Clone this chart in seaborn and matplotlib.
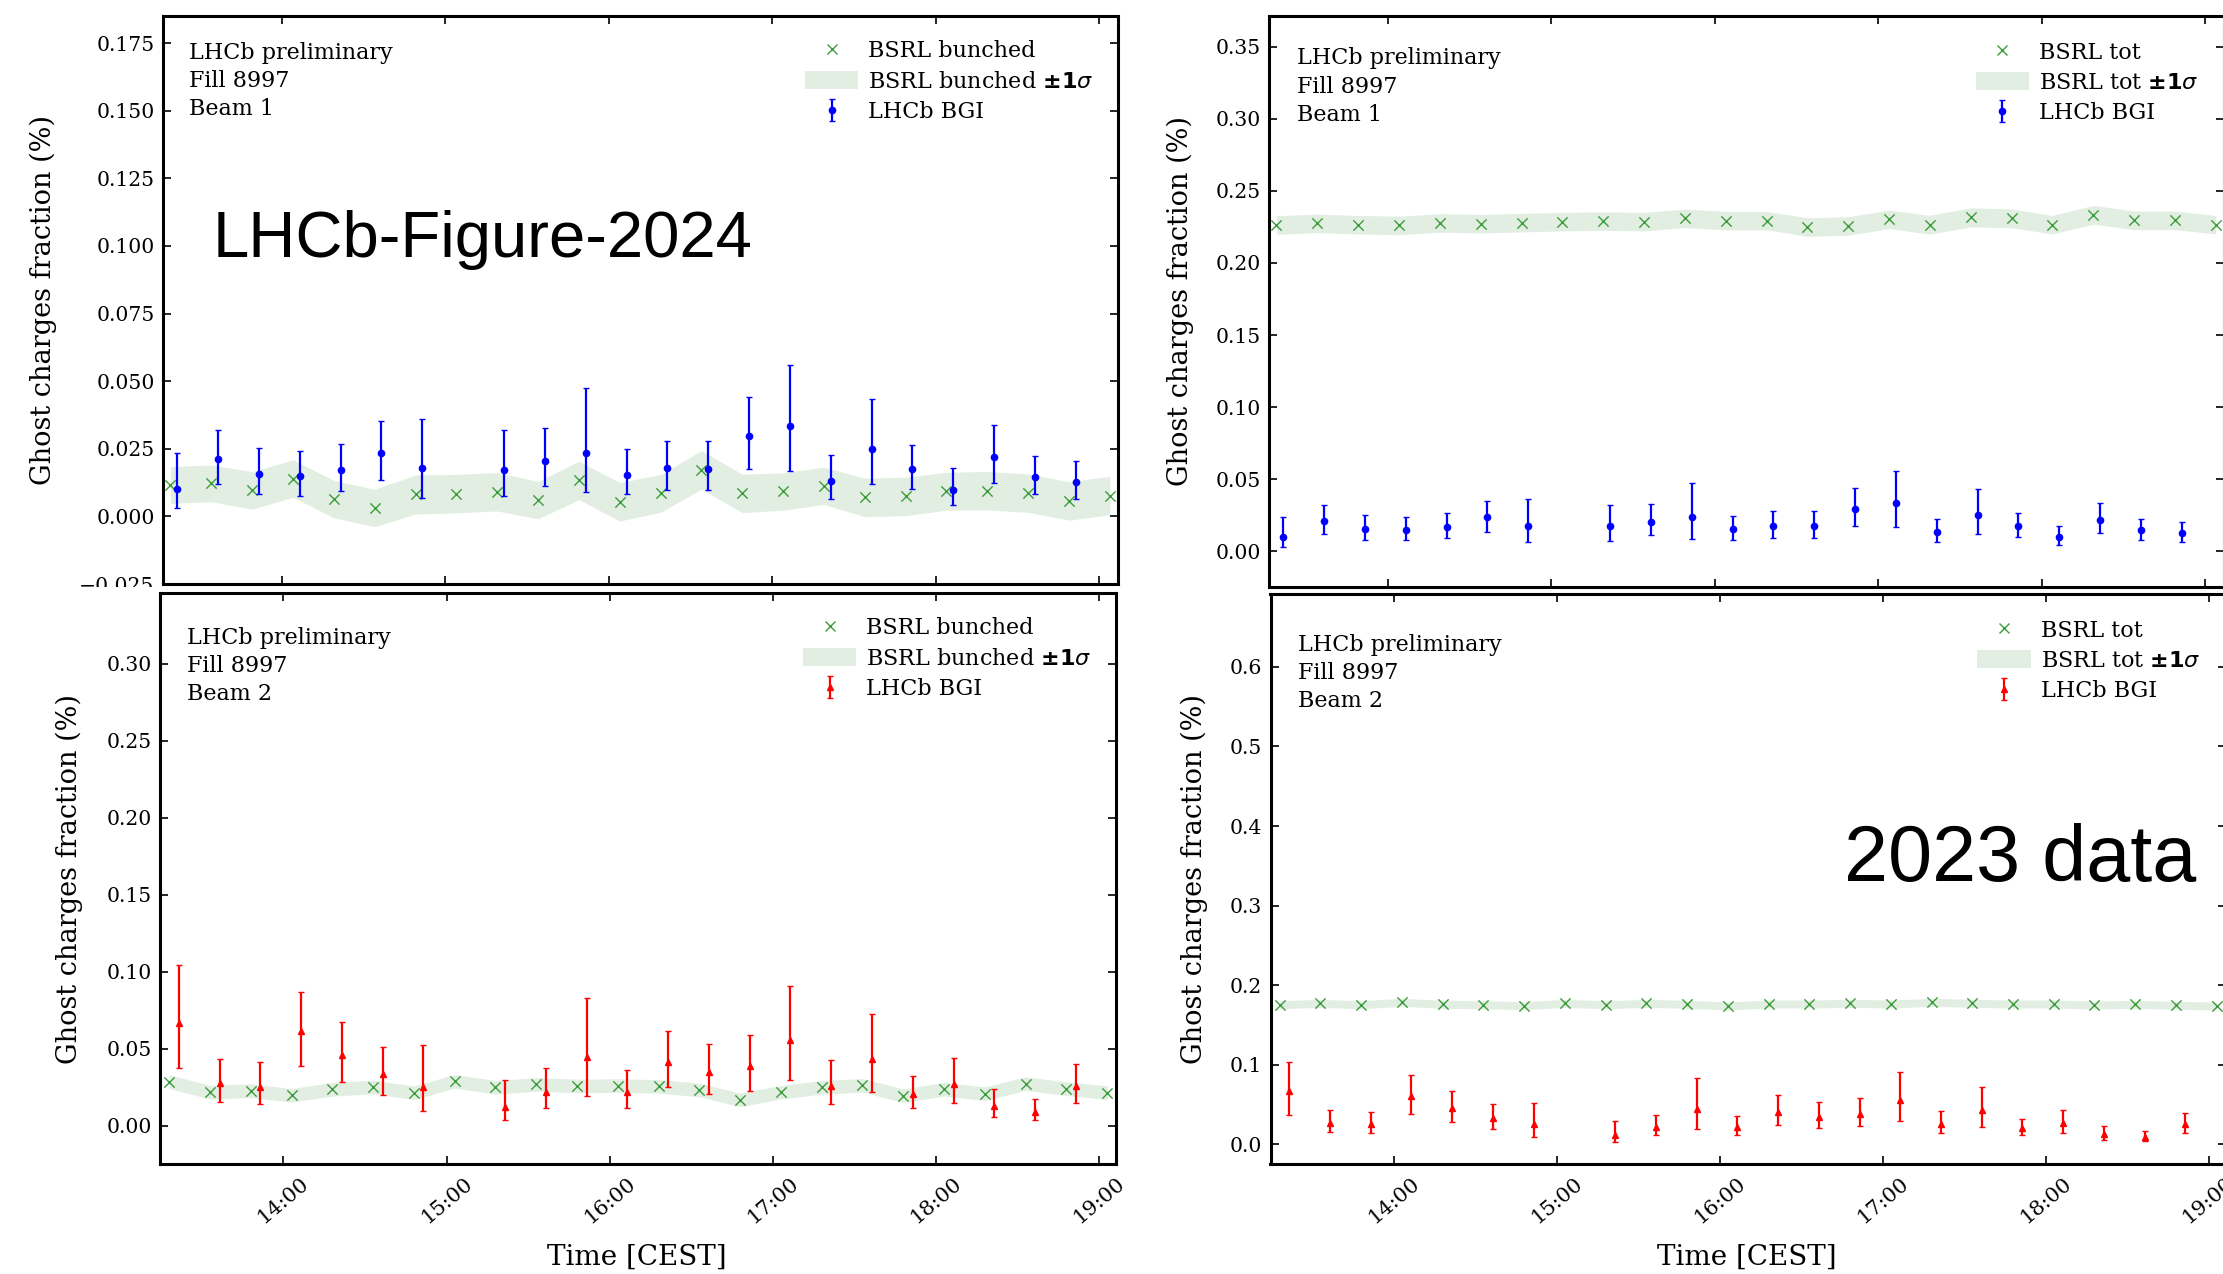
import numpy as np
import pandas as pd
import matplotlib
matplotlib.use("Agg")
import matplotlib.pyplot as plt
import matplotlib.dates as mdates
from matplotlib.patches import Patch, Rectangle
from matplotlib.lines import Line2D
import seaborn as sns

# ---------------- data ----------------
DATE = "2023-07-02 "

bsrl_times_b1 = ["13:19", "13:34", "13:49", "14:04", "14:19", "14:34", "14:49", "15:04",
                 "15:19", "15:34", "15:49", "16:04", "16:19", "16:34", "16:49", "17:04",
                 "17:19", "17:34", "17:49", "18:04", "18:19", "18:34", "18:49", "19:04"]
bsrl_times_b2 = ["13:18", "13:33", "13:48", "14:03", "14:18", "14:33", "14:48", "15:03",
                 "15:18", "15:33", "15:48", "16:03", "16:18", "16:33", "16:48", "17:03",
                 "17:18", "17:33", "17:48", "18:03", "18:18", "18:33", "18:48", "19:03"]
bgi_times = ["13:21:30", "13:36:30", "13:51:30", "14:06:30", "14:21:30", "14:36:30", "14:51:30",
             "15:21:30", "15:36:30", "15:51:30", "16:06:30", "16:21:30", "16:36:30", "16:51:30",
             "17:06:30", "17:21:30", "17:36:30", "17:51:30", "18:06:30", "18:21:30", "18:36:30",
             "18:51:30"]

# Beam 1, BSRL bunched
b1_bunched = [0.0116, 0.0122, 0.0096, 0.0140, 0.0064, 0.0031, 0.0081, 0.0084, 0.0091, 0.0060,
              0.0133, 0.0054, 0.0085, 0.0172, 0.0085, 0.0092, 0.0113, 0.0070, 0.0074, 0.0093,
              0.0095, 0.0086, 0.0057, 0.0077]
b1_bunched_sig = [0.0068, 0.0068, 0.0069, 0.0069, 0.0069, 0.0069, 0.0072, 0.0071, 0.0071, 0.0069,
                  0.0071, 0.0071, 0.0070, 0.0071, 0.0071, 0.0069, 0.0069, 0.0071, 0.0071, 0.0070,
                  0.0071, 0.0071, 0.0071, 0.0071]
# Beam 1, BSRL tot
b1_tot = [0.2263, 0.2274, 0.2265, 0.2260, 0.2277, 0.2272, 0.2279, 0.2286, 0.2290, 0.2286,
          0.2309, 0.2293, 0.2293, 0.2249, 0.2256, 0.2302, 0.2265, 0.2316, 0.2309, 0.2265,
          0.2334, 0.2295, 0.2295, 0.2265]
b1_tot_sig = [0.0064, 0.0064, 0.0064, 0.0064, 0.0064, 0.0064, 0.0064, 0.0064, 0.0064, 0.0064,
              0.0064, 0.0064, 0.0064, 0.0064, 0.0064, 0.0064, 0.0065, 0.0066, 0.0065, 0.0064,
              0.0065, 0.0064, 0.0064, 0.0064]
# Beam 1, LHCb BGI
b1_bgi = [0.0101, 0.0211, 0.0156, 0.0149, 0.0170, 0.0235, 0.0178, 0.0173, 0.0206, 0.0235, 0.0154,
          0.0178, 0.0177, 0.0296, 0.0334, 0.0131, 0.0249, 0.0177, 0.0097, 0.0221, 0.0146, 0.0128]
b1_bgi_hi = [0.0236, 0.0321, 0.0253, 0.0240, 0.0267, 0.0351, 0.0360, 0.0319, 0.0327, 0.0473, 0.0248,
             0.0280, 0.0280, 0.0440, 0.0558, 0.0227, 0.0434, 0.0264, 0.0178, 0.0337, 0.0225, 0.0206]
b1_bgi_lo = [0.0030, 0.0119, 0.0082, 0.0077, 0.0092, 0.0136, 0.0068, 0.0075, 0.0112, 0.0089, 0.0081,
             0.0096, 0.0096, 0.0174, 0.0168, 0.0064, 0.0118, 0.0103, 0.0042, 0.0125, 0.0081, 0.0066]

# Beam 2, BSRL bunched
b2_bunched = [0.0286, 0.0217, 0.0227, 0.0197, 0.0236, 0.0251, 0.0214, 0.0288, 0.0249, 0.0268,
              0.0258, 0.0260, 0.0255, 0.0232, 0.0167, 0.0217, 0.0249, 0.0262, 0.0195, 0.0236,
              0.0208, 0.0273, 0.0240, 0.0214]
b2_bunched_sig = [0.0044, 0.0045, 0.0044, 0.0044, 0.0044, 0.0044, 0.0044, 0.0044, 0.0044, 0.0044,
                  0.0044, 0.0044, 0.0044, 0.0044, 0.0044, 0.0044, 0.0044, 0.0044, 0.0044, 0.0044,
                  0.0044, 0.0044, 0.0044, 0.0044]
# Beam 2, BSRL tot
b2_tot = [0.1755, 0.1772, 0.1755, 0.1785, 0.1760, 0.1755, 0.1743, 0.1772, 0.1755, 0.1772,
          0.1760, 0.1739, 0.1764, 0.1764, 0.1772, 0.1764, 0.1785, 0.1772, 0.1764, 0.1764,
          0.1751, 0.1760, 0.1747, 0.1739]
b2_tot_sig = [0.0050, 0.0050, 0.0050, 0.0050, 0.0050, 0.0050, 0.0050, 0.0050, 0.0050, 0.0050,
              0.0050, 0.0050, 0.0050, 0.0050, 0.0050, 0.0050, 0.0050, 0.0050, 0.0050, 0.0050,
              0.0050, 0.0050, 0.0050, 0.0050]
# Beam 2, LHCb BGI
b2_bgi = [0.0669, 0.0275, 0.0253, 0.0613, 0.0459, 0.0335, 0.0253, 0.0119, 0.0221, 0.0444, 0.0216,
          0.0413, 0.0348, 0.0385, 0.0556, 0.0258, 0.0433, 0.0203, 0.0273, 0.0126, 0.0087, 0.0258]
b2_bgi_hi = [0.1041, 0.0433, 0.0411, 0.0870, 0.0675, 0.0513, 0.0524, 0.0294, 0.0374, 0.0829, 0.0359,
             0.0615, 0.0528, 0.0587, 0.0909, 0.0424, 0.0727, 0.0323, 0.0437, 0.0236, 0.0171, 0.0398]
b2_bgi_lo = [0.0372, 0.0154, 0.0141, 0.0385, 0.0281, 0.0197, 0.0097, 0.0035, 0.0113, 0.0195, 0.0117,
             0.0249, 0.0203, 0.0227, 0.0294, 0.0139, 0.0219, 0.0117, 0.0149, 0.0056, 0.0039, 0.0147]

hour_ticks = ["14:00", "15:00", "16:00", "17:00", "18:00", "19:00"]

# ---------------- style ----------------
sns.set_style("ticks")
plt.rcParams["font.family"] = ["DejaVu Serif"]
plt.rcParams["mathtext.fontset"] = "dejavusans"
for key in ["text.color", "axes.labelcolor", "xtick.color", "ytick.color", "axes.edgecolor"]:
    plt.rcParams[key] = "black"

W, H = 2223, 1274
fig = plt.figure(figsize=(W / 100, H / 100), dpi=100)
fig.patch.set_facecolor("white")

GREEN = "#3c9c3c"
BAND = "#e1eee1"
FS = 16
TICKFS = 14.7


def rect(l, t, r, b):
    return [l / W, 1 - b / H, (r - l) / W, (b - t) / H]


def ts(lst):
    return pd.to_datetime([DATE + s for s in lst])


def panel(pos, bsrl_t, bsrl_v, bsrl_s, bsrl_name, bgi_v, bgi_lo, bgi_hi, color, marker,
          beam, ylim, xlim, bottom_labels, text_xy, leg_pad):
    ax = fig.add_axes(rect(*pos))
    t = ts(bsrl_t)
    v = np.array(bsrl_v)
    s = np.array(bsrl_s)
    ax.fill_between(t, v - s, v + s, color=BAND, lw=0, zorder=1)
    sns.scatterplot(x=t, y=v, marker="x", color=GREEN, s=55, linewidth=1.0,
                    ax=ax, zorder=2, legend=False)
    tb = ts(bgi_times)
    c = np.array(bgi_v)
    yerr = [c - np.array(bgi_lo), np.array(bgi_hi) - c]
    eb = ax.errorbar(tb, c, yerr=yerr, fmt=marker, color=color, ms=4.5, elinewidth=1.6,
                     capsize=2.2, capthick=1.0, zorder=3)
    ax.set_ylim(*ylim)
    ax.set_xlim(pd.Timestamp(DATE + xlim[0]), pd.Timestamp(DATE + xlim[1]))
    ax.set_xticks(ts(hour_ticks))
    ax.xaxis.set_major_formatter(mdates.DateFormatter("%H:%M"))
    ax.tick_params(axis="both", which="major", direction="in", top=True, right=True,
                   length=6, width=1.2, labelsize=TICKFS, pad=6, colors="black")
    ax.tick_params(axis="x", labelbottom=bottom_labels, labelrotation=40, pad=7,
                   labelsize=15)
    if bottom_labels:
        for lbl in ax.get_xticklabels():
            lbl.set_ha("center")
    for sp in ax.spines.values():
        sp.set_linewidth(2.2)
        sp.set_color("black")
    ax.set_xlabel("")
    ax.set_ylabel("")
    ax.text(text_xy[0], text_xy[1], f"LHCb preliminary\nFill 8997\nBeam {beam}",
            transform=ax.transAxes, ha="left", va="top", fontsize=FS, linespacing=1.36)
    handles = [Line2D([], [], marker="x", ls="none", color=GREEN, ms=7, mew=1.0),
               Patch(facecolor=BAND, edgecolor="none"),
               eb]
    labels = [bsrl_name, bsrl_name + r" $\mathbf{\pm 1}\sigma$", "LHCb BGI"]
    ax.legend(handles, labels, loc="upper right", frameon=False, fontsize=FS,
              handlelength=2.4, handleheight=0.85, handletextpad=0.45,
              labelspacing=0.38, borderaxespad=leg_pad, borderpad=0.65)
    return ax


ax_tl = panel((163, 16, 1118, 584), bsrl_times_b1, b1_bunched, b1_bunched_sig, "BSRL bunched",
              b1_bgi, b1_bgi_lo, b1_bgi_hi, "#0000ff", "o", 1,
              (-0.0246, 0.1850), ("13:16:15", "19:07:00"), False, (0.027, 0.955), 0.45)
ax_bl = panel((160, 593, 1116, 1164), bsrl_times_b2, b2_bunched, b2_bunched_sig, "BSRL bunched",
              b2_bgi, b2_bgi_lo, b2_bgi_hi, "#ff0000", "^", 2,
              (-0.0249, 0.3459), ("13:14:36", "19:06:15"), True, (0.028, 0.94), 0.45)
ax_tr = panel((1269, 16, 2224, 587), bsrl_times_b1, b1_tot, b1_tot_sig, "BSRL tot",
              b1_bgi, b1_bgi_lo, b1_bgi_hi, "#0000ff", "o", 1,
              (-0.0247, 0.3712), ("13:16:15", "19:07:00"), False, (0.029, 0.945), 0.5)
ax_br = panel((1270.5, 594, 2225.5, 1164), bsrl_times_b2, b2_tot, b2_tot_sig, "BSRL tot",
              b2_bgi, b2_bgi_lo, b2_bgi_hi, "#ff0000", "^", 2,
              (-0.0246, 0.6915), ("13:14:36", "19:06:15"), True, (0.029, 0.93), 0.5)

ax_tl.set_yticks(np.arange(-0.025, 0.1751, 0.025))
ax_tr.set_yticks(np.arange(0.0, 0.351, 0.05))
ax_bl.set_yticks(np.arange(0.0, 0.301, 0.05))
ax_br.set_yticks(np.arange(0.0, 0.601, 0.1))

# clip the lowest label of the top-left panel like the pasted composite
fig.add_artist(Rectangle((0, 1 - 594 / H), 158 / W, 7 / H, transform=fig.transFigure,
                         facecolor="white", edgecolor="none", zorder=20))

# axis labels
ylab = "Ghost charges fraction (%)"
for (x, y) in [(43, 300), (69, 879), (1180, 301), (1194, 879)]:
    fig.text(x / W, 1 - y / H, ylab, rotation=90, ha="center", va="center", fontsize=19.5)
for x in [637, 1747]:
    fig.text(x / W, 1 - 1257 / H, "Time [CEST]", ha="center", va="center", fontsize=20)

# overlay texts
fig.text(213 / W, 1 - 256.5 / H, "LHCb-Figure-2024", ha="left", va="baseline",
         fontsize=47, family=["Liberation Sans", "DejaVu Sans"], color="black", zorder=30)
fig.text(1844 / W, 1 - 881 / H, "2023 data", ha="left", va="baseline",
         fontsize=57, family=["Liberation Sans", "DejaVu Sans"], color="black", zorder=30)

fig.savefig("out.png", dpi=100)
